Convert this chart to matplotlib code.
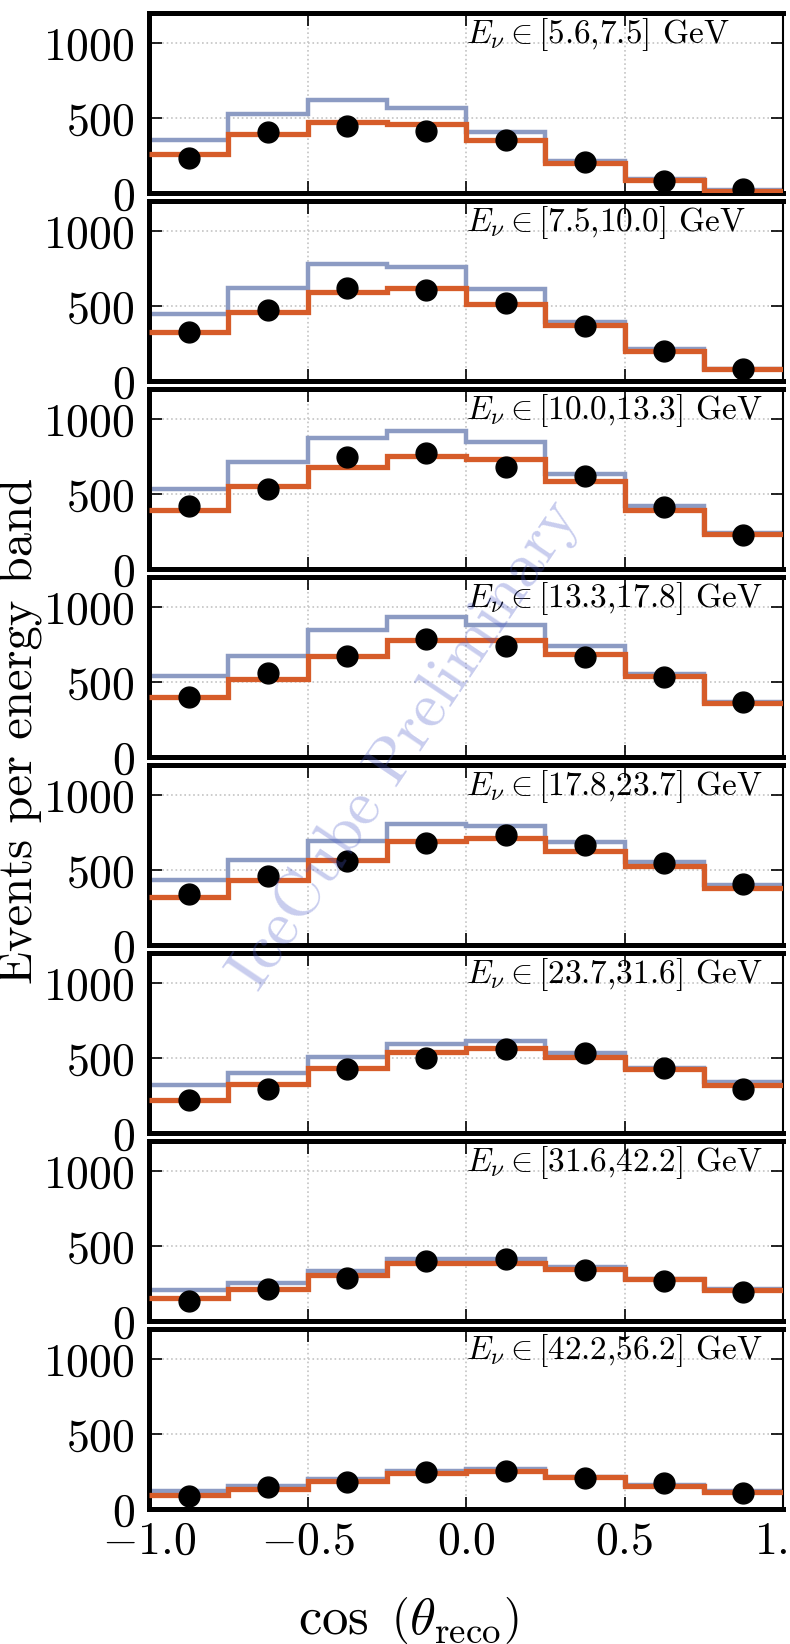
import numpy as np
import matplotlib
matplotlib.use("Agg")
import matplotlib.pyplot as plt

plt.rcParams["font.family"] = "serif"
plt.rcParams["font.serif"] = ["cmr10", "DejaVu Serif"]
plt.rcParams["mathtext.fontset"] = "cm"
plt.rcParams["axes.formatter.use_mathtext"] = True

# ---------------------------------------------------------------- data
cos_edges = np.linspace(-1.0, 1.0, 9)
cos_centers = 0.5 * (cos_edges[:-1] + cos_edges[1:])
e_edges = ["5.6", "7.5", "10.0", "13.3", "17.8", "23.7", "31.6", "42.2", "56.2"]

# no-oscillation expectation (blue-grey)
no_osc = [
    [356, 527, 622, 567, 407, 211, 92, 18],
    [444, 618, 778, 762, 611, 396, 211, 82],
    [535, 715, 872, 917, 849, 634, 420, 238],
    [542, 675, 847, 934, 878, 737, 553, 365],
    [435, 569, 695, 806, 795, 684, 555, 400],
    [319, 402, 507, 596, 614, 536, 435, 341],
    [204, 256, 333, 411, 411, 360, 282, 211],
    [122, 151, 200, 256, 267, 216, 162, 118],
]
# best fit (orange)
best_fit = [
    [262, 393, 473, 460, 351, 200, 89, 16],
    [327, 462, 596, 622, 511, 373, 200, 78],
    [390, 550, 681, 753, 730, 589, 393, 236],
    [398, 520, 675, 781, 781, 686, 538, 358],
    [318, 435, 567, 691, 711, 629, 524, 380],
    [219, 324, 431, 542, 565, 509, 429, 319],
    [151, 211, 307, 384, 389, 344, 278, 209],
    [93, 133, 184, 240, 251, 211, 156, 116],
]
# observed events
observed = [
    [233, 407, 444, 416, 351, 207, 82, 27],
    [329, 473, 618, 604, 522, 367, 200, 82],
    [418, 530, 748, 775, 681, 618, 411, 225],
    [403, 557, 675, 785, 737, 670, 531, 369],
    [340, 462, 562, 680, 733, 667, 544, 407],
    [223, 295, 424, 502, 558, 536, 431, 295],
    [133, 211, 289, 400, 411, 338, 267, 196],
    [89, 144, 178, 244, 256, 204, 171, 104],
]

BLUE = "#8c9bc3"
ORANGE = "#d65c29"

fig, axes = plt.subplots(8, 1, figsize=(7.9, 16.44), dpi=100, sharex=True)
fig.subplots_adjust(left=149 / 790, right=783 / 790, top=1 - 13 / 1644,
                    bottom=1 - 1509 / 1644, hspace=8 / 180)

for k, ax in enumerate(axes):
    ax.grid(True, ls=":", color="#c4c4c4", lw=1.2)
    ax.set_axisbelow(True)
    ax.stairs(no_osc[k], cos_edges, baseline=None, color=BLUE, lw=3.2, zorder=2)
    ax.stairs(best_fit[k], cos_edges, baseline=None, color=ORANGE, lw=3.8, zorder=3)
    ax.plot(cos_centers, observed[k], "o", color="black", ms=15, zorder=4)
    ax.text(0.0, 1000, r"$E_{\nu}\in$[%s,%s] GeV" % (e_edges[k], e_edges[k + 1]),
            fontsize=24, ha="left", va="baseline", zorder=5)
    ax.set_xlim(-1, 1)
    ax.set_ylim(0, 1200)
    ax.set_yticks([0, 500, 1000])
    ax.set_xticks([-1.0, -0.5, 0.0, 0.5, 1.0])
    ax.tick_params(direction="in", top=True, right=True, length=9, width=1.2,
                   labelsize=33)
    ax.tick_params(axis="y", pad=10)
    ax.tick_params(axis="x", pad=9)
    for side in ("top", "left", "bottom"):
        ax.spines[side].set_linewidth(3.6)
    ax.spines["right"].set_linewidth(1.5)

fig.text(20 / 790, 1 - 731 / 1644, "Events per energy band", rotation=90,
         fontsize=35, ha="center", va="center")
fig.text(408 / 790, 1 - 1620 / 1644, r"$\cos\ \left(\theta_{\rm reco}\right)$",
         fontsize=38, ha="center", va="center")
fig.text(405 / 790, 1 - 745 / 1644, "IceCube Preliminary", rotation=56,
         fontsize=46, color="#4a5ac8", alpha=0.3, ha="center", va="center",
         rotation_mode="anchor")

fig.savefig("out.png", dpi=100)
